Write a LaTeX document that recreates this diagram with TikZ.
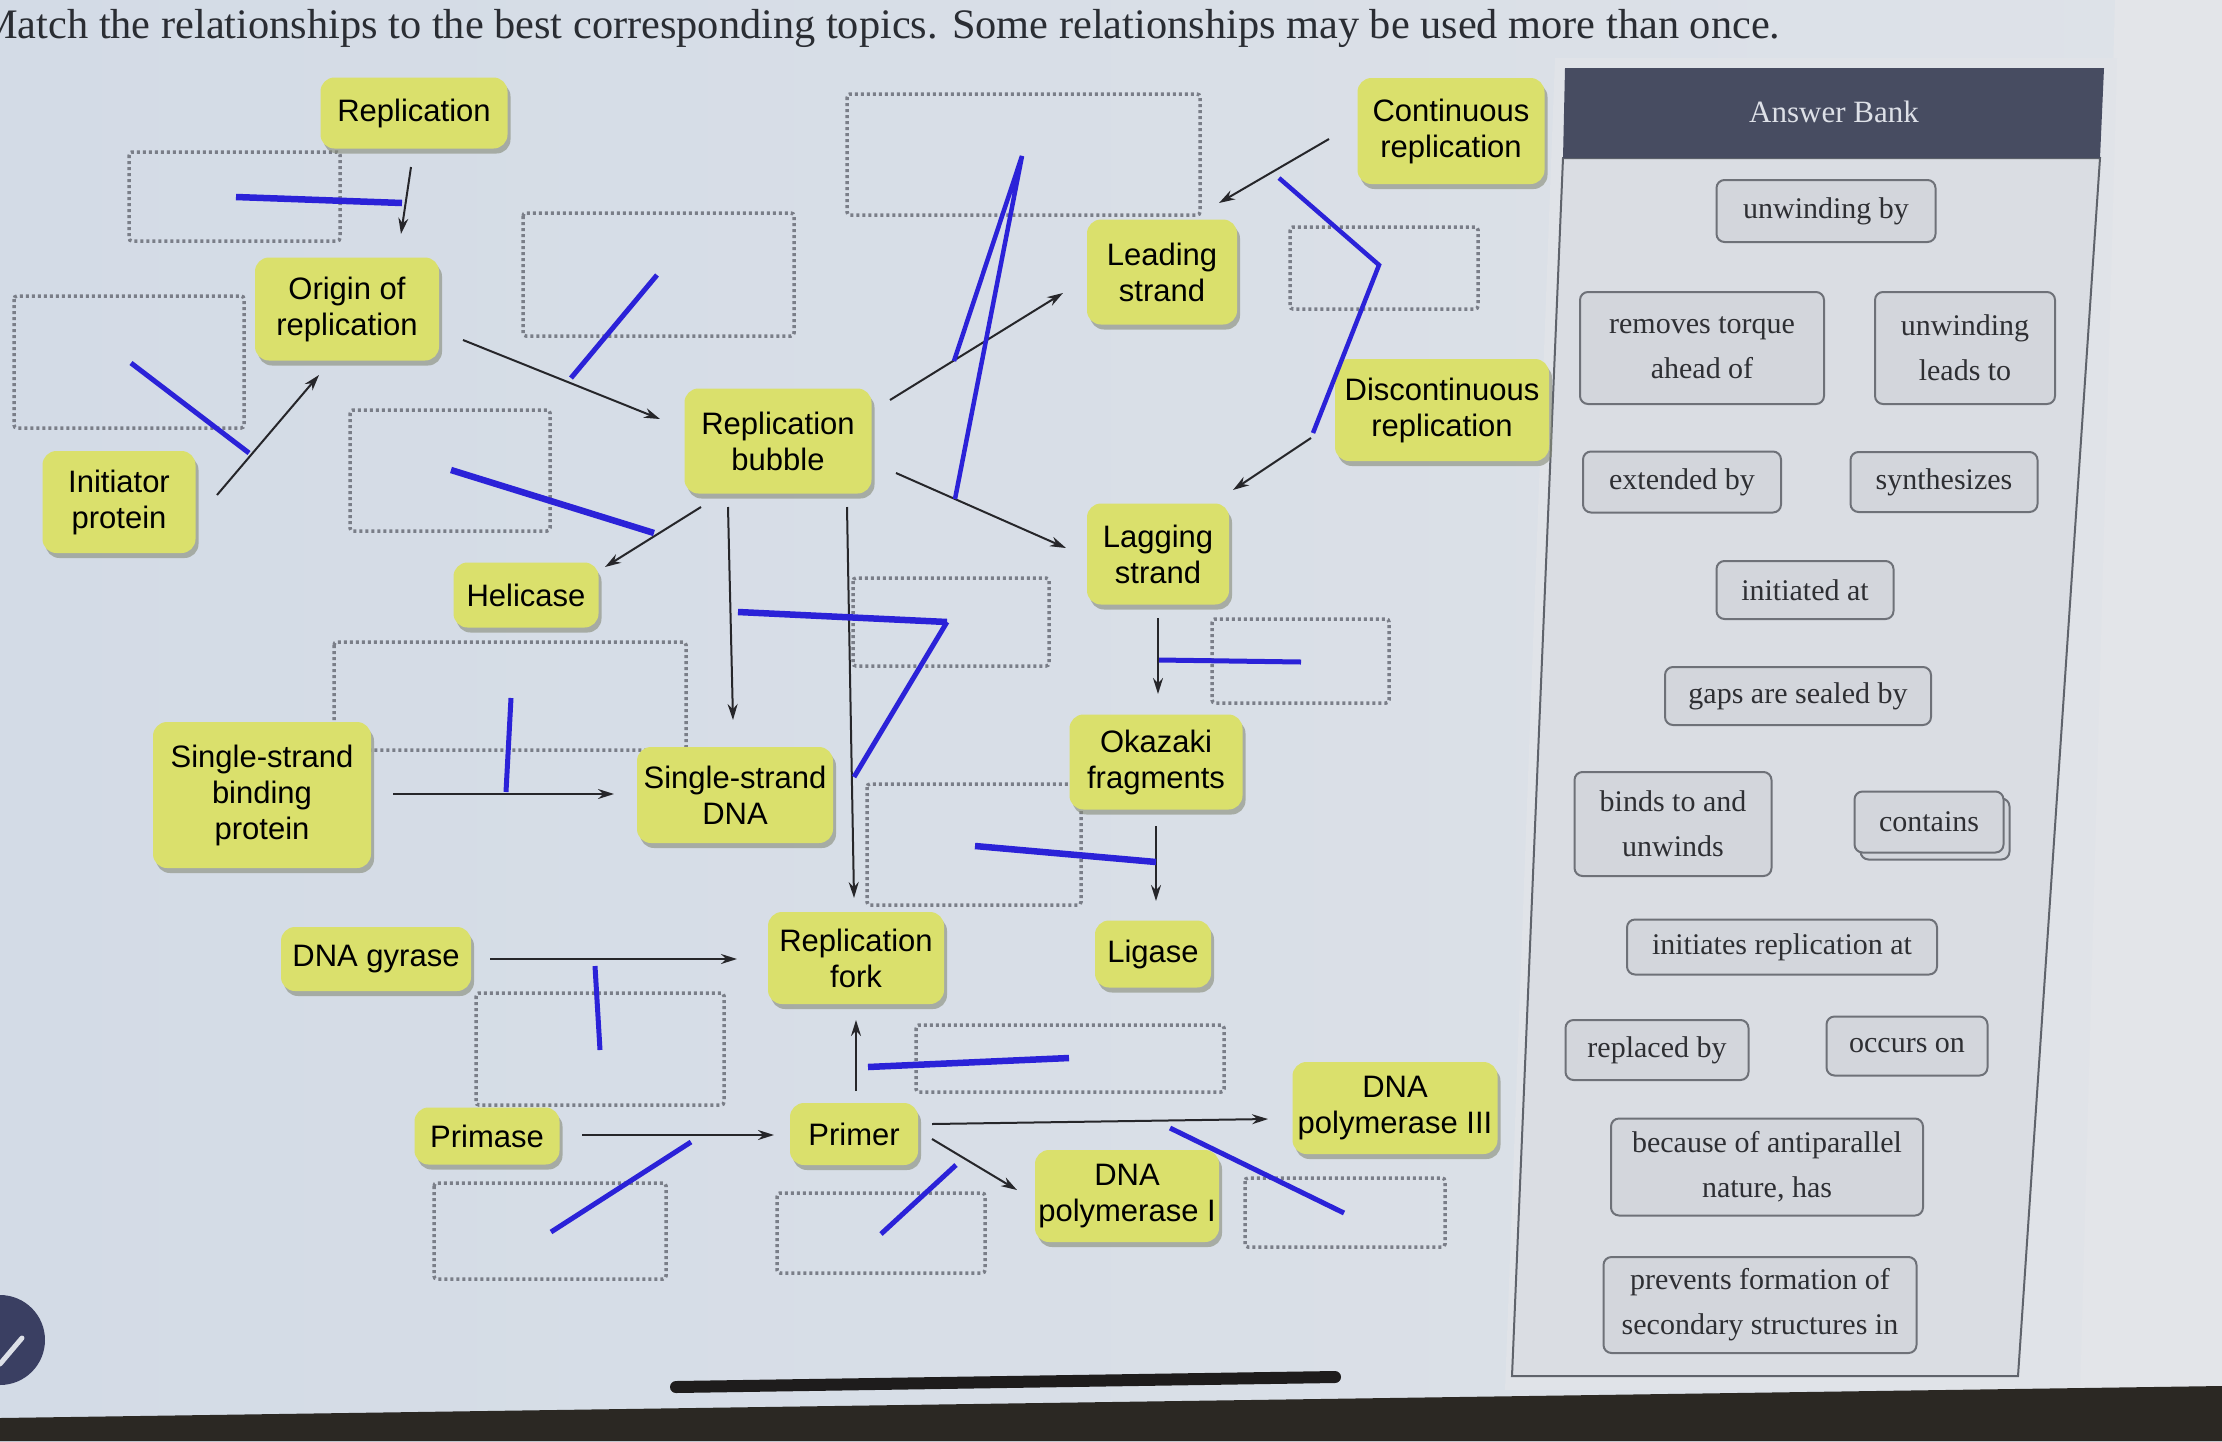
\documentclass[tikz,border=0pt]{standalone}
\usepackage{fontspec}
\usepackage{graphicx}
\setmainfont{Liberation Serif}
\newfontfamily\arialf{Liberation Sans}
\usetikzlibrary{calc,shadows,arrows.meta}
\definecolor{bgL}{HTML}{D3DBE6}
\definecolor{bgR}{HTML}{DEE2E8}
\definecolor{ylw}{HTML}{DAE06C}
\definecolor{shd}{HTML}{868B78}
\definecolor{arrc}{HTML}{26262A}
\definecolor{dgray}{HTML}{7A7E88}
\definecolor{blu}{HTML}{2B22D8}
\definecolor{hdr}{HTML}{474C61}
\definecolor{hdrtxt}{HTML}{DDE0E7}
\definecolor{bodyc}{HTML}{DADDE3}
\definecolor{outerc}{HTML}{E0E3E8}
\definecolor{rlt}{HTML}{E3E5E9}
\definecolor{bordc}{HTML}{5F636B}
\definecolor{ifill}{HTML}{D3D6DC}
\definecolor{igray}{HTML}{6E7178}
\definecolor{itxt}{HTML}{2E2F33}
\definecolor{ttl}{HTML}{2A2D33}
\definecolor{bez}{HTML}{2B2823}
\definecolor{sbar}{HTML}{1E1C1C}
\definecolor{circ}{HTML}{3A3F62}
\begin{document}
\begin{tikzpicture}[x=1pt,y=-1pt,
  wh/.style 2 args={minimum width=#1pt,minimum height=#2pt},
  topic/.style={rounded corners=14pt, fill=ylw, align=center, inner sep=0pt,
    font=\arialf\fontsize{31}{36}\selectfont, text=black,
    drop shadow={shadow xshift=3pt,shadow yshift=-5pt,fill=shd,opacity=0.6}},
  arr/.style={draw=arrc, line width=2pt, -{Stealth[length=16pt,width=10pt]}},
  dbox/.style={draw=dgray, line width=3.5pt, dash pattern=on 3pt off 3pt, rounded corners=3pt},
  bl/.style={draw=blu, line width=5pt},
  blt/.style={draw=blu, line width=6.5pt},
  item/.style={draw=igray, line width=2pt, fill=ifill, rounded corners=8pt, align=center,
    inner sep=0pt, text=itxt, font=\fontsize{30}{45}\selectfont}
]
\useasboundingbox (0,0) rectangle (2222,1441);
% background
\fill[left color=bgL,right color=bgR] (0,0) rectangle (2222,1441);
\fill[rlt] (2115,0) -- (2222,0) -- (2222,1441) -- (2075,1441) -- cycle;
% title
\node[anchor=base west, inner sep=0pt, text=ttl] (title) at (-20,38)
  {\resizebox{1800pt}{\height}{\fontsize{42}{50}\selectfont Match the relationships to the best corresponding topics. Some relationships may be used more than once.}};
% answer bank panel
\fill[outerc] (1555,58) -- (2117,58) -- (2080,1390) -- (1505,1390) -- cycle;
\fill[bodyc] (1563,158) -- (2100,158) -- (2018,1376) -- (1512,1376) -- cycle;
\draw[bordc, line width=2pt] (1563,158) -- (2100,158) -- (2018,1376) -- (1512,1376) -- cycle;
\fill[hdr] (1565,68) -- (2104,68) -- (2100,158) -- (1563,158) -- cycle;
\node[text=hdrtxt, font=\fontsize{31}{36}\selectfont] (abh) at (1834,112) {Answer Bank};
\node[item,wh={219}{62}] (b1) at (1826,211) {unwinding by};
\node[item,wh={244}{112}] (b2) at (1702,348) {removes torque\\ahead of};
\node[item,wh={180}{112}] (b3) at (1965,348) {unwinding\\leads to};
\node[item,wh={198}{61}] (b4) at (1682,482) {extended by};
\node[item,wh={187}{60}] (b5) at (1944,482) {synthesizes};
\node[item,wh={177}{58}] (b6) at (1805,590) {initiated at};
\node[item,wh={266}{58}] (b7) at (1798,696) {gaps are sealed by};
\node[item,wh={197}{104}] (b8) at (1673,824) {binds to and\\unwinds};
\node[item,wh={149}{61}] (b9b) at (1935,829) {};
\node[item,wh={149}{61}] (b9) at (1929,822) {contains};
\node[item,wh={310}{55}] (b10) at (1782,947) {initiates replication at};
\node[item,wh={183}{60}] (b11) at (1657,1050) {replaced by};
\node[item,wh={161}{59}] (b12) at (1907,1046) {occurs on};
\node[item,wh={312}{97}] (b13) at (1767,1167) {because of antiparallel\\nature, has};
\node[item,wh={313}{96}] (b14) at (1760,1305) {prevents formation of\\secondary structures in};
% dashed answer slots
\draw[dbox] (129,152) rectangle (340,241);
\draw[dbox] (14,296) rectangle (244,428);
\draw[dbox] (523,213) rectangle (794,336);
\draw[dbox] (847,94) rectangle (1200,215);
\draw[dbox] (1290,227) rectangle (1478,309);
\draw[dbox] (350,410) rectangle (550,531);
\draw[dbox] (334,642) rectangle (686,750);
\draw[dbox] (853,578) rectangle (1049,666);
\draw[dbox] (1212,619) rectangle (1389,703);
\draw[dbox] (867,784) rectangle (1081,905);
\draw[dbox] (476,993) rectangle (724,1105);
\draw[dbox] (916,1025) rectangle (1224,1092);
\draw[dbox] (434,1183) rectangle (666,1279);
\draw[dbox] (777,1193) rectangle (985,1273);
\draw[dbox] (1245,1178) rectangle (1445,1247);
% topics
\node[topic,wh={187}{71}] (rep) at (414,113) {Replication};
\node[topic,wh={184}{103}] (ori) at (347,309) {Origin of\\replication};
\node[topic,wh={153}{102}] (init) at (119,502) {Initiator\\protein};
\node[topic,wh={187}{105}] (bub) at (778,441) {Replication\\bubble};
\node[topic,wh={145}{65}] (hel) at (526,595) {Helicase};
\node[topic,wh={218}{146}] (ssb) at (262,795) {Single-strand\\binding\\protein};
\node[topic,wh={196}{96}] (ssd) at (735,795) {Single-strand\\DNA};
\node[topic,wh={190}{64}] (gyr) at (376,959) {DNA gyrase};
\node[topic,wh={176}{92}] (fork) at (856,958) {Replication\\fork};
\node[topic,wh={116}{67}] (lig) at (1153,954) {Ligase};
\node[topic,wh={145}{57}] (prim) at (487,1136) {Primase};
\node[topic,wh={128}{62}] (primer) at (854,1134) {Primer};
\node[topic,wh={184}{92}] (pol1) at (1127,1196) {DNA\\polymerase I};
\node[topic,wh={205}{92}] (pol3) at (1395,1108) {DNA\\polymerase III};
\node[topic,wh={150}{105}] (lead) at (1162,272) {Leading\\strand};
\node[topic,wh={142}{101}] (lag) at (1158,554) {Lagging\\strand};
\node[topic,wh={173}{95}] (oka) at (1156,762) {Okazaki\\fragments};
\node[topic,wh={187}{106}] (cont) at (1451,131) {Continuous\\replication};
\node[topic,wh={214}{102}] (disc) at (1442,410) {Discontinuous\\replication};
% connectors
\draw[arr] ($(rep)+(-3,54)$) -- ($(ori)+(54,-75)$);
\draw[arr] ($(init)+(98,-7)$) -- ($(ori)+(-28,66)$);
\draw[arr] ($(ori)+(116,31)$) -- ($(bub)+(-118,-22)$);
\draw[arr] ($(bub)+(112,-41)$) -- ($(lead)+(-99,21)$);
\draw[arr] ($(cont)+(-122,8)$) -- ($(lead)+(57,-69)$);
\draw[arr] ($(disc)+(-131,28)$) -- ($(lag)+(75,-64)$);
\draw[arr] ($(bub)+(118,32)$) -- ($(lag)+(-92,-6)$);
\draw[arr] ($(bub)+(-77,66)$) -- ($(hel)+(79,-28)$);
\draw[arr] ($(bub)+(-50,66)$) -- ($(ssd)+(-2,-75)$);
\draw[arr] ($(bub)+(69,66)$) -- ($(fork)+(-2,-60)$);
\draw[arr] ($(lag)+(0,64)$) -- ($(oka)+(2,-68)$);
\draw[arr] ($(oka)+(0,64)$) -- ($(lig)+(3,-53)$);
\draw[arr] ($(ssb)+(131,-1)$) -- ($(ssd)+(-121,-1)$);
\draw[arr] ($(gyr)+(114,0)$) -- ($(fork)+(-119,1)$);
\draw[arr] ($(prim)+(95,-1)$) -- ($(primer)+(-80,1)$);
\draw[arr] ($(primer)+(2,-43)$) -- ($(fork)+(0,62)$);
\draw[arr] ($(primer)+(78,-10)$) -- ($(pol3)+(-127,11)$);
\draw[arr] ($(primer)+(78,5)$) -- ($(pol1)+(-110,-6)$);
% blue marks
\draw[blt] (236,197) -- (402,203);
\draw[bl] (131,363) -- (249,453);
\draw[bl] (657,275) -- (571,378);
\draw[blt] (451,470) -- (654,533);
\draw[bl, line width=4.5pt, line join=miter] (954,361) -- (1022,156) -- (955,499);
\draw[bl, line width=4.5pt] (1279,178) -- (1379,265) -- (1313,433);
\draw[blt] (738,612) -- (947,622);
\draw[bl] (947,622) -- (854,777);
\draw[bl] (1159,660) -- (1301,662);
\draw[bl] (511,698) -- (506,792);
\draw[blt] (975,846) -- (1156,862);
\draw[bl] (595,966) -- (600,1050);
\draw[blt] (868,1067) -- (1069,1058);
\draw[bl] (691,1142) -- (551,1232);
\draw[bl] (956,1165) -- (881,1234);
\draw[bl] (1170,1128) -- (1344,1213);
% screen edge details
\fill[bez] (0,1418) -- (2222,1386) -- (2222,1441) -- (0,1441) -- cycle;
\draw[sbar, line width=12pt, line cap=round] (676,1387) -- (1335,1377);
\fill[circ] (0,1340) circle (45);
\draw[hdrtxt, line width=5pt, line cap=round] (0,1364) -- (22,1338);
\end{tikzpicture}
\end{document}
